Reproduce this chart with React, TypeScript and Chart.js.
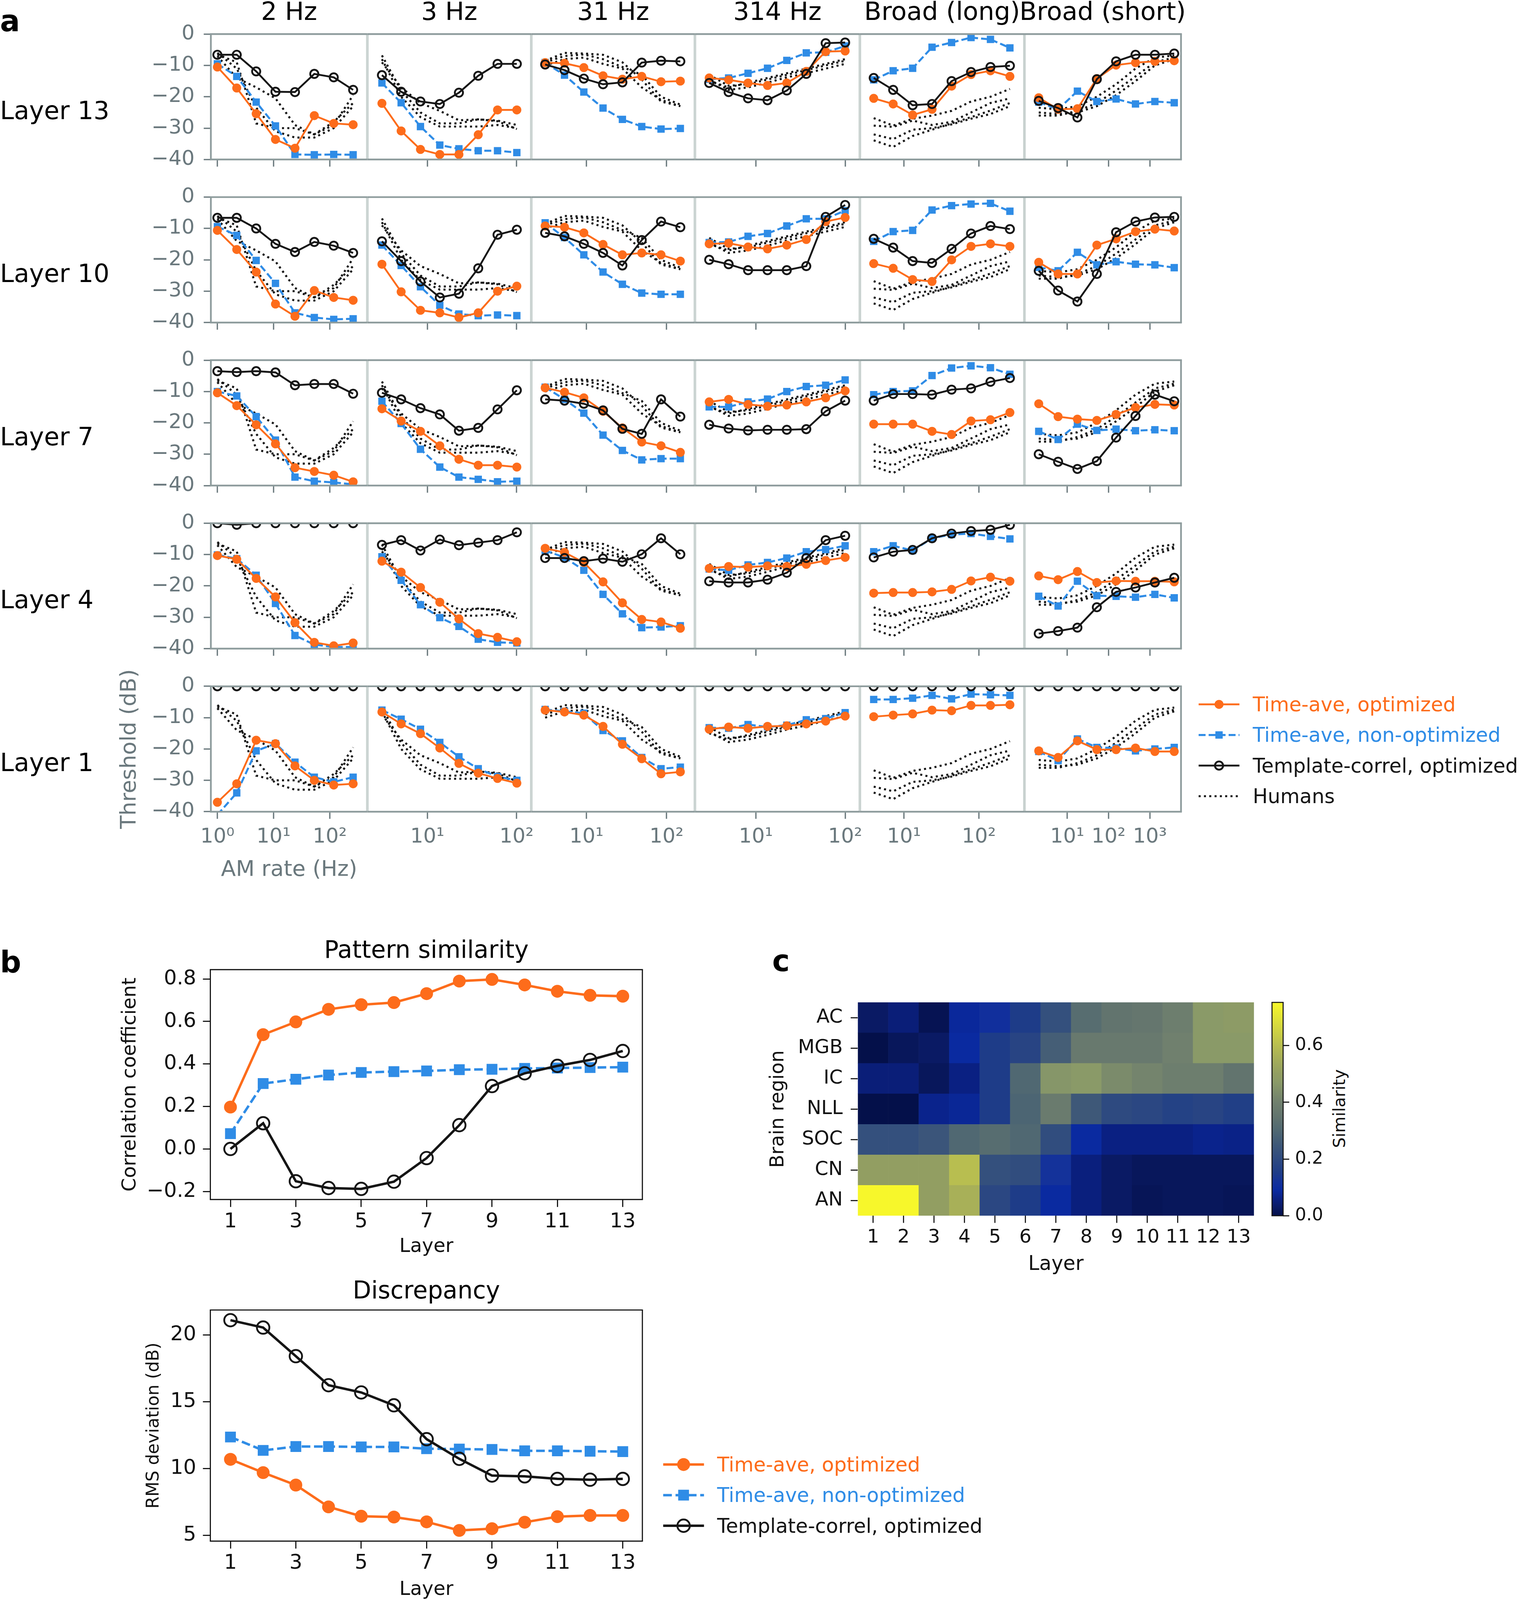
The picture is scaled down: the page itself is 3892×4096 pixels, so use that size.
import React, { useEffect, useRef } from 'react';
import { Chart, registerables } from 'chart.js';

Chart.register(...registerables);
Chart.defaults.font.family = "'DejaVu Sans', sans-serif";
Chart.defaults.color = '#111111';

// ===================== DATA =====================
const columnTitles = ['2 Hz', '3 Hz', '31 Hz', '314 Hz', 'Broad (long)', 'Broad (short)'];
const layerLabels = ['Layer 13', 'Layer 10', 'Layer 7', 'Layer 4', 'Layer 1'];

// AM rates (Hz) of the tested points, per condition
const rates2Hz = [1, 2.21, 4.9, 10.8, 24, 53, 117.5, 260];
const rates3Hz = [3.1, 5.09, 8.38, 13.8, 22.6, 37.2, 61.2, 100.7];
const rates31Hz = [3.05, 5.32, 9.27, 16.1, 28.1, 49, 85.3, 148.6];
const rates314Hz = [3.0, 4.95, 8.17, 13.5, 22.2, 36.7, 60.5, 100];
const ratesBroadLong = [3.95, 7.18, 13.06, 23.7, 43.2, 78.5, 142.6, 259];
const ratesBroadShort = [2.04, 6.0, 17.6, 52, 152, 448, 1320, 3880];
const amRates = [rates2Hz, rates3Hz, rates31Hz, rates314Hz, ratesBroadLong, ratesBroadShort];

// Human thresholds (dB), dotted curves, identical in every row
const humans2Hz = [
  [-6.5, -9, -28.5, -30, -30, -32, -29, -19.5],
  [-6, -11, -23.5, -31, -33, -33, -30, -23],
  [-7, -14, -17, -20.5, -29, -32, -28, -22],
];
const humans3Hz = [
  [-6.8, -18, -25, -28.5, -28.5, -27.2, -27.8, -30.3],
  [-8, -20, -26.5, -29.5, -29.5, -29.5, -29, -30],
  [-9, -17, -22, -24.5, -27.5, -27.2, -27.6, -29],
];
const humans31Hz = [
  [-8.5, -6, -6.2, -6.6, -9, -14.5, -21.5, -23],
  [-9, -7, -6.5, -8, -10.5, -13, -20, -22.5],
  [-10, -8, -7.5, -9.5, -11, -17, -21, -23],
];
const humans314Hz = [
  [-13, -16.5, -16, -14.5, -13, -11.5, -10, -8.5],
  [-14.5, -17.8, -17, -15.5, -13.8, -12.5, -11, -9.5],
  [-15, -17, -15.5, -14, -12.5, -11, -9.5, -8],
];
const humansBroadLong = [
  [-26.8, -29.2, -27, -26, -24.5, -21.5, -20, -17.5],
  [-29.2, -29.6, -27.6, -29, -28, -25, -22, -20.5],
  [-33.9, -36, -32.5, -30.5, -28.5, -26.5, -24.4, -22],
  [-32, -33.5, -30.5, -30, -28.8, -27, -25.5, -23],
];
const humansBroadShort = [
  [-23.5, -24, -23, -20, -16, -11, -7.5, -6.8],
  [-26, -26, -24.5, -22, -18, -13.5, -9, -7.5],
  [-25, -25.5, -25, -23, -19.5, -15, -10, -8],
];
const humanThresholds = [humans2Hz, humans3Hz, humans31Hz, humans314Hz, humansBroadLong, humansBroadShort];

// Model thresholds (dB): one array per column (2 Hz, 3 Hz, 31 Hz, 314 Hz, Broad long, Broad short)
const optLayer13 = [
  [-10.5, -17.2, -25.4, -33.6, -36.4, -26, -28.5, -28.9],
  [-22.1, -30.9, -36.8, -38.4, -38.4, -32.1, -24.2, -24.2],
  [-9.1, -9.3, -10.7, -13.3, -14.4, -13.5, -15.2, -15],
  [-14, -14.6, -15.6, -16.4, -15.6, -11.9, -5.6, -5.4],
  [-20.5, -22.3, -25.8, -24, -16.6, -12.9, -11.7, -13.5],
  [-20.3, -24, -23.8, -14.2, -9.9, -9.1, -8.7, -8.5],
];
const nonOptLayer13 = [
  [-9.5, -13.5, -21.7, -29.3, -38.4, -38.5, -38.4, -38.5],
  [-15.6, -21.9, -29.5, -35.4, -36.6, -37.2, -37.2, -37.8],
  [-9.1, -13.1, -18.5, -23.6, -27.2, -29.5, -30.3, -30.1],
  [-14.4, -14, -12.5, -10.9, -8.4, -6, -5.8, -3.8],
  [-14.6, -11.7, -10.9, -4.2, -2.7, -1.1, -1.7, -4.4],
  [-21.7, -24, -18.2, -21.5, -20.7, -22.3, -21.5, -21.9],
];
const tmplLayer13 = [
  [-6.6, -6.6, -11.9, -18.4, -18.5, -12.7, -13.8, -17.8],
  [-13.1, -18.4, -21.5, -22.3, -18.7, -13.3, -9.5, -9.5],
  [-9.7, -11.5, -14.2, -16, -15.4, -9.1, -8.5, -8.7],
  [-15.6, -18.5, -20.5, -21.1, -18, -12.7, -2.9, -2.7],
  [-14, -17.8, -22.7, -22.3, -15, -12.1, -10.5, -10.1],
  [-21.3, -23.6, -26.6, -14.4, -8.7, -6.6, -6.6, -6.2],
];

const optLayer10 = [
  [-10.6, -16.7, -23.9, -34.1, -38, -29.8, -32, -32.9],
  [-21.4, -30.2, -36.1, -36.9, -38.4, -36.9, -30, -28.4],
  [-9.2, -9.6, -11.4, -15.1, -18.4, -17.8, -18.4, -20.4],
  [-14.9, -14.7, -15.9, -16.5, -15.3, -13.5, -7.8, -6.5],
  [-21.2, -22.7, -26.3, -26.9, -20, -15.7, -14.9, -15.7],
  [-20.8, -24.5, -24.5, -15.3, -13.3, -11, -10.2, -10.8],
];
const nonOptLayer10 = [
  [-9.4, -12.2, -20.2, -27.5, -36.9, -38.4, -39, -38.8],
  [-15.3, -21.8, -28.6, -34.5, -37.3, -37.8, -37.6, -37.8],
  [-8.2, -12.9, -18.4, -23.9, -27.8, -30.6, -31, -31],
  [-14.5, -14.3, -12.5, -11.6, -9.2, -6.9, -6.9, -4.3],
  [-14.1, -11, -10.6, -4.1, -2.7, -2.2, -2, -4.5],
  [-22.4, -23.5, -17.6, -21.6, -20.6, -21.4, -21.6, -22.5],
];
const tmplLayer10 = [
  [-6.6, -6.6, -10, -14.9, -17.5, -14.3, -15.5, -17.8],
  [-14.1, -20.4, -26.9, -32, -30.8, -22.7, -12, -10.4],
  [-11.4, -12.5, -14.9, -17.8, -21.8, -13.7, -7.8, -9.6],
  [-20, -21.4, -23.3, -23.3, -23.3, -22, -6.3, -2.5],
  [-13.3, -16.1, -20.4, -21, -16.5, -11.6, -9.2, -10.2],
  [-23.5, -29.8, -33.3, -24.5, -11.2, -7.8, -6.5, -6.3],
];

const optLayer7 = [
  [-10.4, -14.5, -20.6, -26.7, -34.3, -35.5, -36.7, -38.8],
  [-15.5, -19.4, -22.7, -27.3, -31.6, -33.5, -33.5, -34.1],
  [-8.8, -10.2, -12, -16.3, -21.6, -26.1, -27.3, -29.4],
  [-13.3, -12.5, -14.1, -14.7, -14.3, -13.3, -12, -9.8],
  [-20.4, -20.4, -20.4, -22.7, -23.7, -19.4, -19, -16.7],
  [-13.9, -18, -18.8, -19.2, -17.3, -15.1, -14.1, -14.3],
];
const nonOptLayer7 = [
  [-10, -11.4, -18, -25.5, -37.3, -38.6, -39, -39.6],
  [-13.1, -20.2, -28.4, -34.1, -37.3, -38, -38.8, -38.6],
  [-8.6, -12.5, -16.9, -23.9, -28.8, -31.8, -31.4, -31.4],
  [-14.9, -14.9, -13.3, -12.4, -10, -8.4, -8, -6.3],
  [-11, -10, -9.8, -4.9, -2.5, -1.8, -2.4, -4.5],
  [-22.7, -25.3, -20.4, -22.4, -22, -22.5, -22.2, -22.5],
];
const tmplLayer7 = [
  [-3.5, -3.8, -3.5, -3.9, -8, -7.6, -7.6, -10.7],
  [-10.4, -12.5, -15.3, -17.3, -22.5, -21.6, -15.7, -9.6],
  [-12.5, -12.9, -13.9, -16, -21.9, -23.5, -12.5, -18],
  [-20.6, -21.8, -22.4, -22.2, -22.2, -22, -16.3, -12.9],
  [-12.9, -10.8, -10.8, -11, -9.4, -9, -6.9, -5.7],
  [-30, -32.4, -34.7, -32.2, -24.7, -17.8, -11, -13.1],
];

const optLayer4 = [
  [-10.3, -11.5, -17.6, -23.5, -31.7, -38, -39.1, -38.2],
  [-12.1, -15.6, -20.5, -25.2, -30.5, -35.2, -36.4, -37.8],
  [-8, -9.3, -12.5, -18.7, -25.4, -30.7, -31.5, -33.5],
  [-14.4, -13.8, -14, -13.6, -13.8, -13.1, -11.9, -10.9],
  [-22.3, -22.1, -22.1, -21.9, -21.1, -18.4, -17.2, -18.5],
  [-16.8, -18, -15.4, -18.9, -18.4, -18.5, -18.5, -18.7],
];
const nonOptLayer4 = [
  [-10.1, -11.3, -16.6, -25.6, -35.8, -38.7, -39.5, -39.5],
  [-10.7, -18.2, -26, -30.1, -32.9, -37, -38, -38.2],
  [-8.7, -10.9, -15, -22.7, -28.9, -33.3, -33.1, -32.7],
  [-14.6, -15, -13.3, -12.5, -11.1, -9.1, -8.4, -7.2],
  [-9.1, -7.2, -8.7, -4.8, -3.6, -3.3, -4.2, -5],
  [-23.3, -26.4, -18.5, -23.1, -23.3, -23.6, -22.7, -23.8],
];
const tmplLayer4 = [
  [0, -0.5, 0, 0, 0, 0, 0, 0],
  [-6.9, -5.4, -8.7, -5.2, -7, -6.2, -5.4, -2.9],
  [-11.1, -11.1, -12.1, -11.3, -12.3, -9.9, -4.8, -9.9],
  [-18.5, -18.9, -18.9, -18, -15.8, -11.1, -5.4, -4],
  [-10.9, -9.1, -8.5, -4.8, -3.3, -2.5, -2.1, -0.5],
  [-35.2, -34.4, -33.3, -26.8, -21.9, -20.5, -18.9, -17.4],
];

const optLayer1 = [
  [-37, -31.1, -17.2, -18.3, -25.4, -30, -31.5, -31.1],
  [-8.2, -12, -15.1, -19.7, -24.6, -27.7, -29.4, -30.9],
  [-7.6, -8.2, -9.2, -12.8, -18.5, -23.1, -27.9, -27.3],
  [-13.7, -13, -13.4, -12.8, -12.6, -12, -11.1, -9.5],
  [-9.7, -9.2, -8.8, -7.6, -7.8, -6.1, -6.1, -5.9],
  [-20.6, -22.7, -17.4, -20.2, -20.2, -19.7, -20.8, -20.8],
];
const nonOptLayer1 = [
  [-41, -34, -20.6, -18.3, -24.2, -29, -30.5, -29],
  [-7.6, -10.5, -13.7, -17.9, -22.5, -26.3, -28.8, -30],
  [-7.4, -8, -8.6, -14.1, -17.4, -22.7, -26.3, -25.8],
  [-13.2, -13.4, -12.2, -13, -12.4, -10.7, -10.3, -8.4],
  [-4.2, -4.2, -3.8, -2.9, -4, -2.5, -2.7, -2.9],
  [-20.8, -23.7, -16.8, -19.5, -19.7, -20.6, -20, -19.5],
];
const tmplLayer1 = [
  [0, 0, 0, 0, 0, 0, 0, 0],
  [0, 0, 0, 0, 0, 0, 0, 0],
  [0, 0, 0, 0, 0, 0, 0, 0],
  [0, 0, 0, 0, 0, 0, 0, 0],
  [0, 0, 0, 0, 0, 0, 0, 0],
  [0, 0, 0, 0, 0, 0, 0, 0],
];

const timeAveOpt = [optLayer13, optLayer10, optLayer7, optLayer4, optLayer1];
const timeAveNonOpt = [nonOptLayer13, nonOptLayer10, nonOptLayer7, nonOptLayer4, nonOptLayer1];
const templateCorrel = [tmplLayer13, tmplLayer10, tmplLayer7, tmplLayer4, tmplLayer1];

const thresholdTicks = [0, -10, -20, -30, -40];
const decadeTicks = [1, 10, 100, 1000];

// Panel b
const layerNums = [1, 2, 3, 4, 5, 6, 7, 8, 9, 10, 11, 12, 13];
const layerTicksB = [1, 3, 5, 7, 9, 11, 13];
const simOpt = [0.197, 0.538, 0.598, 0.657, 0.679, 0.689, 0.731, 0.79, 0.798, 0.772, 0.742, 0.723, 0.719];
const simNonOpt = [0.072, 0.308, 0.328, 0.348, 0.36, 0.364, 0.367, 0.373, 0.375, 0.379, 0.381, 0.383, 0.385];
const simTmpl = [0.0, 0.121, -0.152, -0.184, -0.188, -0.154, -0.043, 0.112, 0.296, 0.356, 0.391, 0.419, 0.461];
const corrTicks = [-0.2, 0, 0.2, 0.4, 0.6, 0.8];
const rmsOpt = [10.69, 9.7, 8.77, 7.14, 6.44, 6.38, 6.02, 5.38, 5.51, 5.99, 6.41, 6.5, 6.5];
const rmsNonOpt = [12.36, 11.36, 11.65, 11.65, 11.62, 11.62, 11.49, 11.46, 11.43, 11.33, 11.33, 11.3, 11.27];
const rmsTmpl = [21.09, 20.54, 18.4, 16.23, 15.69, 14.73, 12.2, 10.73, 9.48, 9.42, 9.23, 9.17, 9.23];
const rmsTicks = [5, 10, 15, 20];

// Panel c
const brainRegions = ['AC', 'MGB', 'IC', 'NLL', 'SOC', 'CN', 'AN'];
const heatLayers = ['1', '2', '3', '4', '5', '6', '7', '8', '9', '10', '11', '12', '13'];
const simAC = [0.03, 0.05, 0.01, 0.085, 0.11, 0.15, 0.22, 0.32, 0.35, 0.36, 0.39, 0.47, 0.48];
const simMGB = [0.0, 0.02, 0.03, 0.09, 0.15, 0.18, 0.27, 0.37, 0.37, 0.37, 0.4, 0.47, 0.47];
const simIC = [0.05, 0.05, 0.02, 0.06, 0.15, 0.3, 0.46, 0.47, 0.43, 0.41, 0.39, 0.39, 0.35];
const simNLL = [0.0, 0.0, 0.07, 0.08, 0.15, 0.29, 0.38, 0.25, 0.2, 0.19, 0.17, 0.18, 0.16];
const simSOC = [0.22, 0.22, 0.24, 0.3, 0.32, 0.3, 0.21, 0.09, 0.06, 0.06, 0.06, 0.07, 0.065];
const simCN = [0.5, 0.5, 0.5, 0.6, 0.22, 0.21, 0.12, 0.055, 0.03, 0.02, 0.02, 0.02, 0.02];
const simAN = [0.75, 0.75, 0.5, 0.56, 0.19, 0.15, 0.09, 0.055, 0.03, 0.015, 0.02, 0.02, 0.015];
const similarityByRegion: Record<string, number[]> = {
  AC: simAC, MGB: simMGB, IC: simIC, NLL: simNLL, SOC: simSOC, CN: simCN, AN: simAN,
};
const cbarTicks = [0, 0.2, 0.4, 0.6];
const cbarMax = 0.752;

// ===================== STYLE / LAYOUT =====================
const K = 3892 / 1490;
const s = (v: number) => v * K;
const FONT = "'DejaVu Sans', sans-serif";

const ORANGE = '#fd6c1b';
const BLUE = '#2f8ce6';
const BLACK = '#151515';
const GRAY_TXT = '#6a787d';
const GRAY_TICK = '#6e7c80';
const SPINE_OUT = '#8e9c9d';
const SPINE_IN = '#c8d1cf';

// marker / line sizes (reference px)
const A_LW = 1.8;
const A_BLUE_LW = 2.0;
const A_R_ORANGE = 4.4;
const A_R_BLACK = 4.0;
const A_BW_BLACK = 1.8;
const A_SQ = 7.2;
const A_DASH = [6.8, 3.0];
const A_DOT_LW = 2.0;
const A_DOT = [2.0, 3.2];
const B_LW = 2.4;
const B_R_ORANGE = 6.3;
const B_R_BLACK = 6.1;
const B_BW_BLACK = 1.8;
const B_SQ = 10.6;
const B_DASH = [8.5, 3.6];

const cmapStops: [number, string][] = [
  [0.0, '#04104a'],
  [0.03, '#0a1a64'],
  [0.06, '#0a2082'],
  [0.09, '#0a2aa0'],
  [0.12, '#14329a'],
  [0.15, '#1e3c88'],
  [0.2, '#2e4a80'],
  [0.25, '#3e5878'],
  [0.3, '#506872'],
  [0.35, '#62746e'],
  [0.4, '#70806e'],
  [0.47, '#8a9a68'],
  [0.5, '#929e62'],
  [0.56, '#a8b058'],
  [0.6, '#b8be50'],
  [0.752, '#f8f82a'],
];

const ROW_TOPS = [33.4, 193.2, 353.0, 512.8, 672.6];
const ROW_H = 122.9;
const COL_EDGES = [206.7, 360.1, 520.8, 681.2, 842.9, 1004.2, 1157.7];
const COL_LOG = [
  [-0.116, 2.668],
  [0.328, 2.165],
  [0.311, 2.354],
  [0.317, 2.165],
  [0.412, 2.607],
  [-0.037, 3.753],
];

const SUP: Record<number, string> = { 0: '\u2070', 1: '\u00B9', 2: '\u00B2', 3: '\u00B3' };
const minus = (str: string) => str.replace('-', '\u2212');

function hexToRgb(h: string) {
  const n = parseInt(h.slice(1), 16);
  return [(n >> 16) & 255, (n >> 8) & 255, n & 255];
}
function cmap(v: number) {
  const st = cmapStops;
  if (v <= st[0][0]) return st[0][1];
  for (let i = 1; i < st.length; i++) {
    if (v <= st[i][0]) {
      const t = (v - st[i - 1][0]) / (st[i][0] - st[i - 1][0]);
      const a = hexToRgb(st[i - 1][1]);
      const b = hexToRgb(st[i][1]);
      return `rgb(${a.map((x, k) => Math.round(x + (b[k] - x) * t)).join(',')})`;
    }
  }
  return st[st.length - 1][1];
}

const framePlugin = {
  id: 'frame',
  afterDatasetsDraw(chart: any, _a: any, opts: any) {
    const area = chart.chartArea;
    if (!area || !opts || !opts.sides) return;
    const ctx = chart.ctx;
    const { left, right, top, bottom } = area;
    const sides = opts.sides;
    const L = sides.left, R = sides.right, T = sides.top, B = sides.bottom;
    ctx.save();
    ctx.lineCap = 'butt';
    const draw = (c: string, w: number, x1: number, y1: number, x2: number, y2: number) => {
      ctx.strokeStyle = c;
      ctx.lineWidth = w;
      ctx.beginPath();
      ctx.moveTo(x1, y1);
      ctx.lineTo(x2, y2);
      ctx.stroke();
    };
    if (L) { const x = left + (L.inside ? L.w / 2 : 0); draw(L.c, L.w, x, top, x, bottom); }
    if (R) { const x = right - (R.inside ? R.w / 2 : 0); draw(R.c, R.w, x, top, x, bottom); }
    const xl = left - (L && !L.inside ? L.w / 2 : 0);
    const xr = right + (R && !R.inside ? R.w / 2 : 0);
    if (T) draw(T.c, T.w, xl, top, xr, top);
    if (B) draw(B.c, B.w, xl, bottom, xr, bottom);
    ctx.restore();
  },
};

type Area = { l: number; t: number; r: number; b: number };
function place(area: Area, axL: number, axB: number, axR: number, m: number) {
  const left = Math.floor(s(area.l - axL - m));
  const top = Math.floor(s(area.t - m));
  const right = Math.ceil(s(area.r + axR + m));
  const bottom = Math.ceil(s(area.b + axB + m));
  return {
    left, top, width: right - left, height: bottom - top, axL, axB, axR,
    padding: {
      left: s(area.l - axL) - left,
      top: s(area.t) - top,
      right: right - s(area.r + axR),
      bottom: bottom - s(area.b + axB),
    },
  };
}

const baseOptions = (pl: any) => ({
  responsive: false,
  maintainAspectRatio: false,
  animation: false as const,
  devicePixelRatio: 1,
  events: [] as any[],
  layout: { padding: pl.padding, autoPadding: false },
});

// ---------- panel a ----------
function panelAConfig(row: number, col: number, pl: any) {
  const isBottom = row === 4;
  const isLeft = col === 0;
  const rates = amRates[col];
  const pts = (vals: number[]) => vals.map((v, i) => ({ x: rates[i], y: v }));
  const lw = s(A_LW);
  const datasets: any[] = [
    {
      label: 'Template-correl, optimized', data: pts(templateCorrel[row][col]),
      borderColor: BLACK, borderWidth: lw, pointStyle: 'circle', pointRadius: s(A_R_BLACK),
      pointBorderWidth: s(A_BW_BLACK), pointBorderColor: BLACK, pointBackgroundColor: 'rgba(0,0,0,0)', clip: 0,
    },
    {
      label: 'Time-ave, optimized', data: pts(timeAveOpt[row][col]),
      borderColor: ORANGE, borderWidth: lw, pointStyle: 'circle', pointRadius: s(A_R_ORANGE),
      pointBorderWidth: 0, pointBackgroundColor: ORANGE, pointBorderColor: ORANGE, clip: 0,
    },
    {
      label: 'Time-ave, non-optimized', data: pts(timeAveNonOpt[row][col]),
      borderColor: BLUE, borderWidth: s(A_BLUE_LW), borderDash: A_DASH.map(s), pointStyle: 'rect',
      pointRadius: s(A_SQ / Math.SQRT2), pointBorderWidth: 0, pointBackgroundColor: BLUE, pointBorderColor: BLUE, clip: 0,
    },
    ...humanThresholds[col].map((h) => ({
      label: 'Humans', data: pts(h), borderColor: BLACK, borderWidth: s(A_DOT_LW),
      borderDash: A_DOT.map(s), pointRadius: 0, clip: 0,
    })),
  ];
  const grid = {
    display: true, drawOnChartArea: false, drawTicks: true,
    tickLength: s(7), tickWidth: s(1.3), tickColor: GRAY_TICK,
  };
  const outer = { c: SPINE_OUT, w: s(1.7), inside: false };
  const inner = { c: SPINE_IN, w: s(1.25), inside: true };
  const [lgMin, lgMax] = COL_LOG[col];
  return {
    type: 'line',
    data: { datasets },
    plugins: [framePlugin],
    options: {
      ...baseOptions(pl),
      scales: {
        x: {
          type: 'logarithmic',
          min: Math.pow(10, lgMin),
          max: Math.pow(10, lgMax),
          afterBuildTicks: (sc: any) => {
            sc.ticks = decadeTicks
              .filter((v) => Math.log10(v) > lgMin + 0.05 && Math.log10(v) < lgMax - 0.02)
              .map((v) => ({ value: v }));
          },
          afterFit: (sc: any) => { sc.height = s(pl.axB); },
          grid,
          border: { display: false },
          ticks: {
            display: isBottom, autoSkip: false, maxRotation: 0, minRotation: 0, padding: s(6.1),
            color: GRAY_TXT, font: { size: s(20), family: FONT },
            callback: (v: any) => '10' + SUP[Math.round(Math.log10(Number(v)))],
          },
          title: {
            display: isBottom && isLeft, text: 'AM rate (Hz)', color: GRAY_TXT,
            font: { size: s(21.3), family: FONT }, padding: { top: 0, bottom: s(2) },
          },
        },
        y: {
          type: 'linear', min: -40, max: 0, display: isLeft,
          afterBuildTicks: (sc: any) => { sc.ticks = thresholdTicks.map((v) => ({ value: v })); },
          afterFit: (sc: any) => { if (isLeft) sc.width = s(pl.axL); },
          grid,
          border: { display: false },
          ticks: {
            padding: s(9), color: GRAY_TXT, font: { size: s(20), family: FONT },
            callback: (v: any) => minus(String(v)),
          },
          title: {
            display: isBottom && isLeft, text: 'Threshold (dB)', color: GRAY_TXT,
            font: { size: s(21.3), family: FONT }, padding: { top: 0, bottom: 0 },
          },
        },
      },
      plugins: {
        legend: { display: false },
        tooltip: { enabled: false },
        frame: {
          sides: {
            left: isLeft ? outer : inner,
            right: col === 5 ? outer : inner,
            top: outer,
            bottom: outer,
          },
        },
      },
    },
  };
}

// ---------- panel b ----------
function panelBConfig(kind: 'sim' | 'rms', pl: any) {
  const isSim = kind === 'sim';
  const opt = isSim ? simOpt : rmsOpt;
  const non = isSim ? simNonOpt : rmsNonOpt;
  const tmpl = isSim ? simTmpl : rmsTmpl;
  const yTicks = isSim ? corrTicks : rmsTicks;
  const pts = (vals: number[]) => vals.map((v, i) => ({ x: layerNums[i], y: v }));
  const grid = {
    display: true, drawOnChartArea: false, drawTicks: true,
    tickLength: s(7.3), tickWidth: s(1.1), tickColor: '#111111',
  };
  const side = { c: '#111111', w: s(1.1), inside: false };
  return {
    type: 'line',
    data: {
      datasets: [
        {
          label: 'Template-correl, optimized', data: pts(tmpl), borderColor: BLACK, borderWidth: s(B_LW),
          pointStyle: 'circle', pointRadius: s(B_R_BLACK), pointBorderWidth: s(B_BW_BLACK), pointBorderColor: BLACK,
          pointBackgroundColor: 'rgba(0,0,0,0)',
        },
        {
          label: 'Time-ave, optimized', data: pts(opt), borderColor: ORANGE, borderWidth: s(B_LW),
          pointStyle: 'circle', pointRadius: s(B_R_ORANGE), pointBorderWidth: 0, pointBackgroundColor: ORANGE,
        },
        {
          label: 'Time-ave, non-optimized', data: pts(non), borderColor: BLUE, borderWidth: s(B_LW),
          borderDash: B_DASH.map(s), pointStyle: 'rect', pointRadius: s(B_SQ / Math.SQRT2), pointBorderWidth: 0,
          pointBackgroundColor: BLUE,
        },
      ],
    },
    plugins: [framePlugin],
    options: {
      ...baseOptions(pl),
      scales: {
        x: {
          type: 'linear', min: 0.385, max: 13.6,
          afterBuildTicks: (sc: any) => { sc.ticks = layerTicksB.map((v) => ({ value: v })); },
          afterFit: (sc: any) => { sc.height = s(pl.axB); },
          grid,
          border: { display: false },
          ticks: { autoSkip: false, maxRotation: 0, padding: s(2.7), color: '#111111', font: { size: s(20), family: FONT } },
          title: {
            display: true, text: 'Layer', color: '#111111', font: { size: s(19), family: FONT },
            padding: { top: 0, bottom: s(isSim ? 2.2 : 1.0) },
          },
        },
        y: {
          type: 'linear', min: isSim ? -0.238 : 4.58, max: isSim ? 0.844 : 21.85,
          afterBuildTicks: (sc: any) => { sc.ticks = yTicks.map((v) => ({ value: v })); },
          afterFit: (sc: any) => { sc.width = s(pl.axL); },
          grid,
          border: { display: false },
          ticks: {
            padding: s(6.5), color: '#111111', font: { size: s(20), family: FONT },
            callback: (v: any) => (isSim ? minus(Number(v).toFixed(1)) : String(v)),
          },
          title: {
            display: true, text: isSim ? 'Correlation coefficient' : 'RMS deviation (dB)', color: '#111111',
            font: { size: s(isSim ? 19 : 17), family: FONT }, padding: { top: s(isSim ? 6.6 : 30.8), bottom: 0 },
          },
        },
      },
      plugins: {
        legend: { display: false },
        tooltip: { enabled: false },
        frame: { sides: { left: side, right: side, top: side, bottom: side } },
      },
    },
  };
}

// ---------- panel c ----------
function heatmapConfig(pl: any) {
  const bottomUp = [...brainRegions].reverse();
  const grid = {
    display: true, drawOnChartArea: false, drawTicks: true, offset: false,
    tickLength: s(7), tickWidth: s(1.1), tickColor: '#1a1a1a',
  };
  return {
    type: 'bar',
    data: {
      labels: heatLayers,
      datasets: bottomUp.map((name) => ({
        label: name,
        data: heatLayers.map(() => 1),
        backgroundColor: similarityByRegion[name].map((v) => cmap(v)),
        borderWidth: 0,
        barPercentage: 1,
        categoryPercentage: 1,
      })),
    },
    options: {
      ...baseOptions(pl),
      scales: {
        x: {
          type: 'category', stacked: true,
          afterFit: (sc: any) => { sc.height = s(pl.axB); },
          grid,
          border: { display: false },
          ticks: { autoSkip: false, maxRotation: 0, padding: s(3.3), color: '#111111', font: { size: s(18.7), family: FONT } },
          title: {
            display: true, text: 'Layer', color: '#111111', font: { size: s(19.5), family: FONT },
            padding: { top: 0, bottom: s(0.3) },
          },
        },
        y: {
          type: 'linear', stacked: true, min: 0, max: brainRegions.length,
          afterBuildTicks: (sc: any) => { sc.ticks = brainRegions.map((_, i) => ({ value: i + 0.5 })); },
          afterFit: (sc: any) => { sc.width = s(pl.axL); },
          grid,
          border: { display: false },
          ticks: {
            padding: s(7.8), color: '#111111', font: { size: s(18.9), family: FONT },
            callback: (v: any) => brainRegions[brainRegions.length - 1 - Math.floor(Number(v))],
          },
          title: {
            display: true, text: 'Brain region', color: '#111111', font: { size: s(18.9), family: FONT },
            padding: { top: s(6.7), bottom: 0 },
          },
        },
      },
      plugins: { legend: { display: false }, tooltip: { enabled: false } },
    },
  };
}

function colorbarConfig(pl: any) {
  const side = { c: '#111111', w: s(1.0), inside: false };
  return {
    type: 'bar',
    data: {
      labels: [''],
      datasets: [
        {
          label: 'Similarity',
          data: [cbarMax],
          backgroundColor: (c: any) => {
            const area = c.chart.chartArea;
            if (!area) return '#000000';
            const g = c.chart.ctx.createLinearGradient(0, area.bottom, 0, area.top);
            cmapStops.forEach(([v, col]) => g.addColorStop(Math.min(1, v / cbarMax), col));
            return g;
          },
          borderWidth: 0,
          barPercentage: 1,
          categoryPercentage: 1,
        },
      ],
    },
    plugins: [framePlugin],
    options: {
      ...baseOptions(pl),
      scales: {
        x: { display: false },
        y: {
          position: 'right', min: 0, max: cbarMax,
          afterBuildTicks: (sc: any) => { sc.ticks = cbarTicks.map((v) => ({ value: v })); },
          afterFit: (sc: any) => { sc.width = s(pl.axR); },
          grid: {
            display: true, drawOnChartArea: false, drawTicks: true,
            tickLength: s(6), tickWidth: s(1.1), tickColor: '#1a1a1a',
          },
          border: { display: false },
          ticks: {
            padding: s(5.7), color: '#111111', font: { size: s(17.3), family: FONT },
            callback: (v: any) => Number(v).toFixed(1),
          },
        },
      },
      plugins: {
        legend: { display: false },
        tooltip: { enabled: false },
        frame: { sides: { left: side, right: side, top: side, bottom: side } },
      },
    },
  };
}

// ===================== COMPONENTS =====================
function ChartCanvas({ pl, build }: { pl: any; build: () => any }) {
  const ref = useRef<HTMLCanvasElement | null>(null);
  useEffect(() => {
    if (!ref.current) return;
    const chart = new Chart(ref.current, build());
    return () => chart.destroy();
  }, []);
  return (
    <canvas
      ref={ref}
      width={pl.width}
      height={pl.height}
      style={{ position: 'absolute', left: pl.left, top: pl.top, width: pl.width, height: pl.height }}
    />
  );
}

function Txt(props: {
  x: number; y: number; size: number; text: string; color?: string;
  align?: 'left' | 'center' | 'right'; weight?: number; rotate?: boolean;
}) {
  const { x, y, size, text, color = '#111111', align = 'left', weight = 400, rotate = false } = props;
  const lh = s(size) * 1.2;
  const style: any = {
    position: 'absolute', left: s(x), top: s(y) - lh / 2, fontSize: s(size), lineHeight: `${lh}px`,
    height: lh, color, fontWeight: weight, whiteSpace: 'nowrap', fontFamily: FONT,
  };
  if (align === 'center') style.transform = 'translateX(-50%)';
  if (align === 'right') style.transform = 'translateX(-100%)';
  if (rotate) {
    style.top = s(y);
    style.transform = 'translate(-50%, -50%) rotate(-90deg)';
  }
  return <div style={style}>{text}</div>;
}

function LegendSwatches({ x0, ys, big }: { x0: number; ys: number[]; big: boolean }) {
  const lw = big ? B_LW : A_LW;
  const rO = big ? B_R_ORANGE : A_R_ORANGE;
  const sq = big ? B_SQ : A_SQ;
  const rB = big ? B_R_BLACK : A_R_BLACK;
  const bwB = big ? B_BW_BLACK : A_BW_BLACK;
  const dash = big ? B_DASH : A_DASH;
  const cx = x0 + 20;
  const vbY = ys[0] - 15;
  const vbH = ys[ys.length - 1] - ys[0] + 30;
  return (
    <svg
      style={{ position: 'absolute', left: s(x0 - 10), top: s(vbY) }}
      width={s(60)}
      height={s(vbH)}
      viewBox={`${x0 - 10} ${vbY} 60 ${vbH}`}
    >
      <line x1={x0} y1={ys[0]} x2={x0 + 40} y2={ys[0]} stroke={ORANGE} strokeWidth={lw} />
      <circle cx={cx} cy={ys[0]} r={rO} fill={ORANGE} />
      <line x1={x0} y1={ys[1]} x2={x0 + 40} y2={ys[1]} stroke={BLUE} strokeWidth={big ? B_LW : A_BLUE_LW}
        strokeDasharray={dash.join(' ')} />
      <rect x={cx - sq / 2} y={ys[1] - sq / 2} width={sq} height={sq} fill={BLUE} />
      <line x1={x0} y1={ys[2]} x2={x0 + 40} y2={ys[2]} stroke={BLACK} strokeWidth={lw} />
      <circle cx={cx} cy={ys[2]} r={rB} fill="none" stroke={BLACK} strokeWidth={bwB} />
      {ys.length > 3 ? (
        <line x1={x0} y1={ys[3]} x2={x0 + 40} y2={ys[3]} stroke={BLACK} strokeWidth={A_DOT_LW} strokeDasharray={A_DOT.join(' ')} />
      ) : null}
    </svg>
  );
}

export default function App() {
  const items: any[] = [];

  // panel a
  for (let r = 0; r < 5; r++) {
    for (let c = 0; c < 6; c++) {
      const area = { l: COL_EDGES[c], r: COL_EDGES[c + 1], t: ROW_TOPS[r], b: ROW_TOPS[r] + ROW_H };
      const pl = place(area, c === 0 ? 92.2 : 0, r === 4 ? 72 : 7, 0, 30);
      items.push(<ChartCanvas key={`a-${r}-${c}`} pl={pl} build={() => panelAConfig(r, c, pl)} />);
    }
  }

  // panel b
  const plSim = place({ l: 206.2, r: 629.7, t: 950.3, b: 1175.6 }, 96.2, 60, 0, 25);
  const plRms = place({ l: 206.2, r: 629.7, t: 1283.9, b: 1510.4 }, 96.2, 60, 0, 25);
  items.push(<ChartCanvas key="b-sim" pl={plSim} build={() => panelBConfig('sim', plSim)} />);
  items.push(<ChartCanvas key="b-rms" pl={plRms} build={() => panelBConfig('rms', plRms)} />);

  // panel c
  const plHeat = place({ l: 840.9, r: 1229.2, t: 982.4, b: 1191.5 }, 95.9, 60, 0, 25);
  const plBar = place({ l: 1246.9, r: 1257.8, t: 982.4, b: 1191.5 }, 0, 0, 45, 20);
  items.push(<ChartCanvas key="c-heat" pl={plHeat} build={() => heatmapConfig(plHeat)} />);
  items.push(<ChartCanvas key="c-bar" pl={plBar} build={() => colorbarConfig(plBar)} />);

  const legendYsA = [690.5, 720.5, 750.5, 780.5];
  const legendYsB = [1435.5, 1465.5, 1495.5];
  const legendNames = ['Time-ave, optimized', 'Time-ave, non-optimized', 'Template-correl, optimized', 'Humans'];
  const legendColors = [ORANGE, BLUE, BLACK, BLACK];

  return (
    <div
      style={{
        position: 'absolute', left: 0, top: 0, width: 3892, height: 4096, overflow: 'hidden',
        background: '#ffffff', fontFamily: FONT,
      }}
    >
      {/* panel letters */}
      <Txt x={0} y={21} size={29} text="a" weight={700} color="#000000" />
      <Txt x={0} y={943} size={29} text="b" weight={700} color="#000000" />
      <Txt x={757} y={942} size={29} text="c" weight={700} color="#000000" />

      {/* column titles */}
      {columnTitles.map((t, c) => (
        <Txt key={`ct-${c}`} x={(COL_EDGES[c] + COL_EDGES[c + 1]) / 2} y={11} size={24.7} text={t} align="center" color="#000000" />
      ))}
      {/* row labels */}
      {layerLabels.map((t, r) => (
        <Txt key={`rl-${r}`} x={0} y={ROW_TOPS[r] + 75} size={24.5} text={t} color="#000000" />
      ))}

      {/* panel b titles */}
      <Txt x={418} y={930.7} size={23.5} text="Pattern similarity" align="center" color="#000000" />
      <Txt x={418} y={1264.3} size={23.5} text="Discrepancy" align="center" color="#000000" />

      {/* colorbar label */}
      <Txt x={1313} y={1086.6} size={16.3} text="Similarity" rotate color="#111111" />

      {items}

      {/* legends */}
      <LegendSwatches x0={1175} ys={legendYsA} big={false} />
      {legendNames.map((t, i) => (
        <Txt key={`la-${i}`} x={1228} y={legendYsA[i]} size={19.5} text={t} color={legendColors[i]} />
      ))}
      <LegendSwatches x0={650} ys={legendYsB} big />
      {legendNames.slice(0, 3).map((t, i) => (
        <Txt key={`lb-${i}`} x={703} y={legendYsB[i]} size={19.5} text={t} color={legendColors[i]} />
      ))}
    </div>
  );
}
